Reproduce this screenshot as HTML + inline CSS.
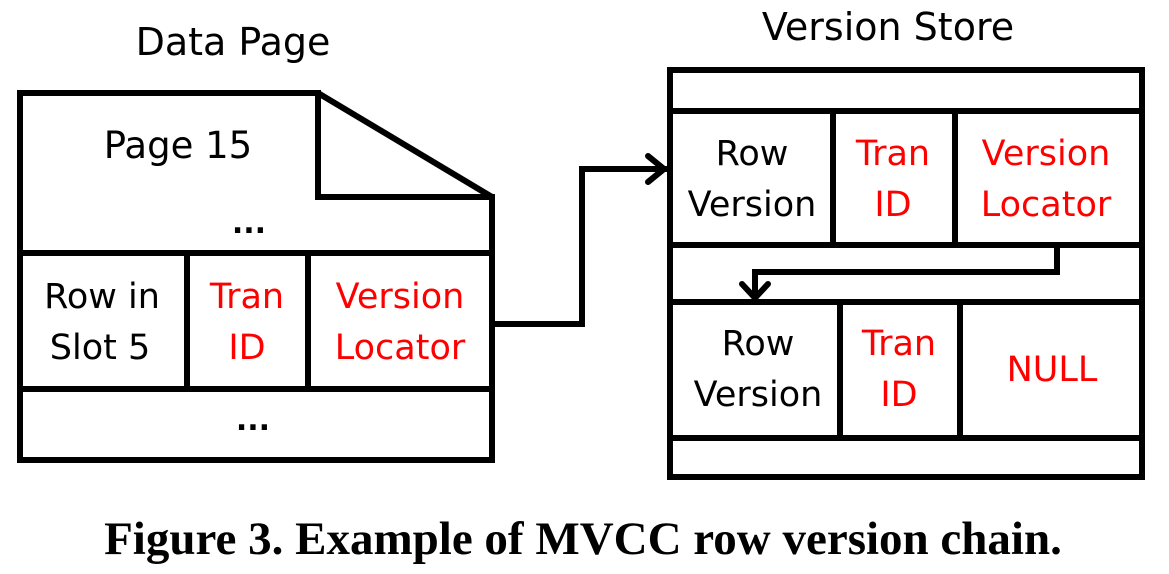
<!DOCTYPE html>
<html><head><style>
body{margin:0;background:#fff;width:1169px;height:574px;overflow:hidden}
</style></head><body>
<svg width="1169" height="574" xmlns="http://www.w3.org/2000/svg" style="position:absolute;left:0;top:0">
<g fill="none" stroke="#000" stroke-width="6" stroke-linejoin="miter" stroke-linecap="square">
<path d="M20,93 H318 L492,197 V460 H20 Z"/>
<path d="M318,93 V197 H492"/>
<path d="M20,253 H492 M20,389 H492 M187,253 V389 M308,253 V389"/>
<path d="M492,324 H582 V169 H664"/>
<path d="M648,156 L664,169 L648,182" stroke-linecap="round"/>
<rect x="670" y="70" width="472" height="407"/>
<path d="M670,111 H1142 M670,245 H1142 M670,302 H1142 M670,438 H1142"/>
<path d="M833,111 V245 M955,111 V245 M840,302 V438 M960,302 V438"/>
<path d="M1057,245 V272 H755 V298"/>
<path d="M742,284 L755,298 L768,284" stroke-linecap="round"/>
</g>
<g font-family="'DejaVu Sans','Liberation Sans',sans-serif" font-size="35" text-anchor="middle">
<text x="233" y="55" font-size="38">Data Page</text>
<text x="888" y="40" font-size="38">Version Store</text>
<text x="178" y="158" font-size="37">Page 15</text>
<text x="249" y="233" font-weight="bold" font-size="30">...</text>
<text x="253" y="430" font-weight="bold" font-size="30">...</text>
<text x="102" y="308">Row in</text>
<text x="100" y="359">Slot 5</text>
<g fill="#f00"><text x="247" y="308">Tran</text><text x="247" y="359">ID</text>
<text x="400" y="308">Version</text><text x="400" y="359">Locator</text></g>
<text x="752" y="165">Row</text><text x="752" y="216">Version</text>
<g fill="#f00"><text x="893" y="165">Tran</text><text x="893" y="216">ID</text>
<text x="1046" y="165">Version</text><text x="1046" y="216">Locator</text></g>
<text x="758" y="355">Row</text><text x="758" y="406">Version</text>
<g fill="#f00"><text x="899" y="355">Tran</text><text x="899" y="406">ID</text>
<text x="1052" y="381">NULL</text></g>
</g>
<text x="583" y="554" text-anchor="middle" font-family="'Liberation Serif',serif" font-weight="bold" font-size="47">Figure 3. Example of MVCC row version chain.</text>
</svg>
</body></html>
